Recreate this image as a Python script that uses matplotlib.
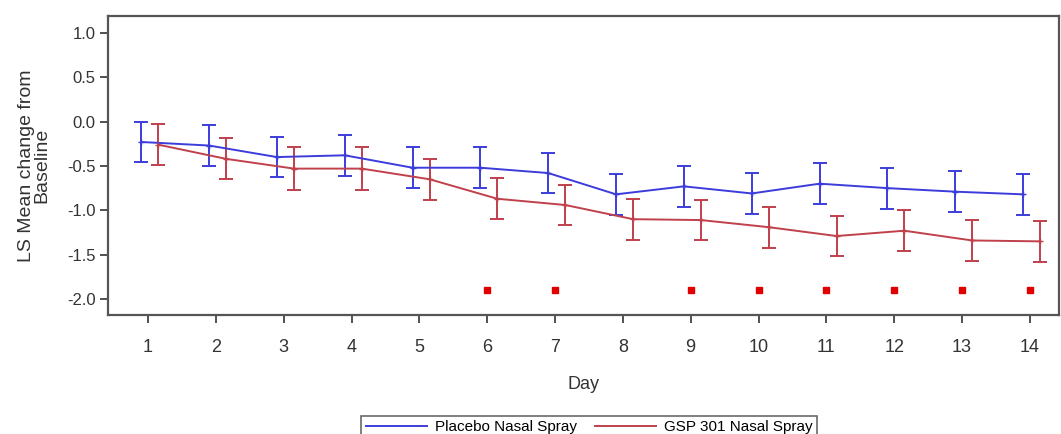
import matplotlib
matplotlib.use("Agg")
import matplotlib.pyplot as plt
import numpy as np
from matplotlib.lines import Line2D

plt.rcParams['font.family'] = ['Liberation Sans Narrow', 'Liberation Sans', 'DejaVu Sans']

days = [1, 2, 3, 4, 5, 6, 7, 8, 9, 10, 11, 12, 13, 14]
placebo_mean = [-0.23, -0.27, -0.40, -0.38, -0.52, -0.52, -0.58, -0.82, -0.73, -0.81, -0.70, -0.75, -0.79, -0.82]
placebo_err = [0.23, 0.23, 0.23, 0.23, 0.23, 0.23, 0.23, 0.23, 0.23, 0.23, 0.23, 0.23, 0.23, 0.23]
gsp_mean = [-0.26, -0.42, -0.53, -0.53, -0.65, -0.87, -0.94, -1.10, -1.11, -1.19, -1.29, -1.23, -1.34, -1.35]
gsp_err = [0.23, 0.23, 0.24, 0.24, 0.23, 0.23, 0.23, 0.23, 0.23, 0.23, 0.23, 0.23, 0.23, 0.23]
sig_days = [6, 7, 9, 10, 11, 12, 13, 14]
sig_y = -1.90

blue = '#3c3cdc'
red = '#c0404c'

fig = plt.figure(figsize=(10.61, 4.34), dpi=100)
ax = fig.add_axes([108/1061, 119/434, 951/1061, 299/434])

xb = np.array(days) - 0.1
xr = np.array(days) + 0.15
ax.errorbar(xb, placebo_mean, yerr=placebo_err, color=blue, lw=1.4, elinewidth=1.4,
            capsize=5, capthick=1.4, marker='+', ms=5, label='Placebo Nasal Spray')
ax.errorbar(xr, gsp_mean, yerr=gsp_err, color=red, lw=1.4, elinewidth=1.4,
            capsize=5, capthick=1.4, marker='+', ms=5, label='GSP 301 Nasal Spray')
ax.plot(sig_days, [sig_y]*len(sig_days), linestyle='none', marker='s', ms=4, color='#e00000')

ax.set_xlim(0.41, 14.43)
ax.set_ylim(-2.18, 1.19)
ax.set_xticks(days)
ax.set_yticks([1.0, 0.5, 0.0, -0.5, -1.0, -1.5, -2.0])
ax.set_yticklabels(['1.0', '0.5', '0.0', '-0.5', '-1.0', '-1.5', '-2.0'])
ax.tick_params(axis='both', direction='out', length=6, width=1.2, colors='#333333')
ax.tick_params(axis='y', labelsize=12, pad=3)
ax.tick_params(axis='x', labelsize=13, pad=11)
for s in ax.spines.values():
    s.set_color('#555555')
    s.set_linewidth(1.6)
ax.set_xlabel('Day', fontsize=13, color='#333333', labelpad=15)
ax.set_ylabel('LS Mean change from\nBaseline', fontsize=14, color='#333333', labelpad=12, linespacing=0.85)

labels = ['Placebo Nasal Spray', 'GSP 301 Nasal Spray']
h = [Line2D([0], [0], color=blue, lw=1.4), Line2D([0], [0], color=red, lw=1.4)]
leg = fig.legend(h, labels, loc='upper center', bbox_to_anchor=(589/1061, 1 - 408/434), ncol=2,
                 fontsize=11, frameon=True, fancybox=False, edgecolor='#444444',
                 handlelength=4, columnspacing=1.2, borderpad=0.3, handletextpad=0.5)
leg.get_frame().set_linewidth(1.2)

fig.savefig('out.png', dpi=100)
